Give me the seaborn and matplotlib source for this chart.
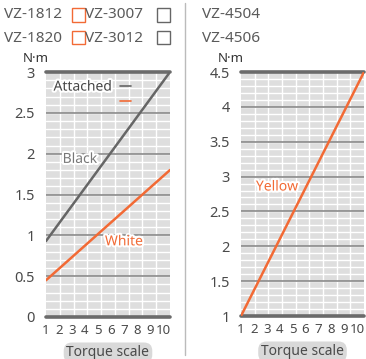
import matplotlib
matplotlib.use("Agg")
import matplotlib.pyplot as plt
import matplotlib.patheffects as pe
from matplotlib.lines import Line2D
from matplotlib.patches import Rectangle
import numpy as np
import pandas as pd
import seaborn as sns

# ---- data ----
scale_ticks = [1, 2, 3, 4, 5, 6, 7, 8, 9, 10]
scale_ends = [1, 10.55]
black_vals = [0.93, 3.0]
white_vals = [0.45, 1.8]
yellow_vals = [1.0, 4.5]
left_yticks = [0, 0.5, 1, 1.5, 2, 2.5, 3]
left_yticklabels = ["0", "0.5", "1", "1.5", "2", "2.5", "3"]
right_yticks = [1, 1.5, 2, 2.5, 3, 3.5, 4, 4.5]
right_yticklabels = ["1", "1.5", "2", "2.5", "3", "3.5", "4", "4.5"]
left_models = [["VZ-1812", "VZ-3007"], ["VZ-1820", "VZ-3012"]]
right_models = ["VZ-4504", "VZ-4506"]

sns.set_theme(style="white")
plt.rcParams['font.family'] = ['Noto Sans', 'DejaVu Sans']

GRAY_TXT = "#4a4a4a"
HEAD_TXT = "#5a5a5a"
ORANGE = "#f26a35"
DARK = "#6b6b6b"
BG = "#dedede"
FS = 9.5

fig = plt.figure(figsize=(3.66, 3.59), dpi=100)
W, H = 366, 359
def ax_rect(x0, x1, y0, y1):
    return [x0 / W, 1 - y1 / H, (x1 - x0) / W, (y1 - y0) / H]

axL = fig.add_axes(ax_rect(46, 170, 72, 317))
axR = fig.add_axes(ax_rect(241, 364, 72, 316))

df_left = pd.DataFrame({"scale": scale_ends * 2,
                        "torque": black_vals + white_vals,
                        "tip": ["Black"] * 2 + ["White"] * 2})
df_right = pd.DataFrame({"scale": scale_ends, "torque": yellow_vals})

def style_axis(ax, ylo, yhi, yticks, ylabels):
    ax.set_facecolor(BG)
    xlo, xhi = scale_ends
    ax.set_xlim(xlo, xhi)
    ax.set_ylim(ylo, yhi)
    for k in range(1, 9):
        ax.axvline(xlo + k * (xhi - xlo) / 9, color="white", lw=1.0, zorder=0.5)
    for v in np.arange(ylo, yhi + 1e-6, 0.1):
        ax.axhline(v, color="white", lw=1.0, zorder=0.5)
    for v in yticks:
        ax.axhline(v, color="#808080", lw=1.1, zorder=0.6)
    ax.axhline(yhi, color=DARK, lw=2.6, zorder=0.7, clip_on=False)
    ax.axhline(ylo, color=DARK, lw=2.6, zorder=0.7, clip_on=False)
    for s in ax.spines.values():
        s.set_visible(False)
    ax.set_xticks(scale_ticks)
    ax.set_xticklabels([str(t) for t in scale_ticks])
    ax.set_yticks(yticks)
    ax.set_yticklabels(ylabels)
    ax.tick_params(axis="x", length=0, labelsize=FS, colors=GRAY_TXT, pad=5)
    ax.tick_params(axis="y", length=0, labelsize=10.5, colors=GRAY_TXT, pad=8)
    ax.set_xlabel("Torque scale", fontsize=10, color=GRAY_TXT, labelpad=6,
                  bbox=dict(boxstyle="round,pad=0.2,rounding_size=0.6",
                            fc="#d9d9d9", ec="none"))
    ax.set_ylabel("")
    ax.text(-0.19, 1.03, "N\u00b7m", transform=ax.transAxes, fontsize=FS,
            color="#333333", ha="left", va="bottom")

sns.lineplot(data=df_left, x="scale", y="torque", hue="tip",
             palette={"Black": "#666666", "White": ORANGE},
             linewidth=1.8, legend=False, ax=axL, zorder=3)
sns.lineplot(data=df_right, x="scale", y="torque", color=ORANGE,
             linewidth=1.8, legend=False, ax=axR, zorder=3)

style_axis(axL, 0, 3, left_yticks, left_yticklabels)
style_axis(axR, 1, 4.5, right_yticks, right_yticklabels)

outline = [pe.withStroke(linewidth=3, foreground="white")]
axL.text(3.6, 1.93, "Black", color="#777777", fontsize=10, ha="center",
         va="center", path_effects=outline, zorder=4)
axL.text(7.0, 0.92, "White", color=ORANGE, fontsize=10, ha="center",
         va="center", path_effects=outline, zorder=4)
axR.text(3.8, 2.85, "Yellow", color=ORANGE, fontsize=10, ha="center",
         va="center", path_effects=outline, zorder=4)

handles = [Line2D([], [], color="#666666", lw=1.2),
           Line2D([], [], color=ORANGE, lw=1.2)]
leg = axL.legend(handles, ["Attached", " "], loc="upper left",
                 bbox_to_anchor=(-0.04, 1.02), frameon=False, markerfirst=False,
                 handlelength=0.8, handletextpad=0.6, labelspacing=0.05,
                 fontsize=10)
for t in leg.get_texts():
    t.set_color("#444444")
    t.set_path_effects(outline)

rows_y = [15, 38]
for r, (a, b) in enumerate(left_models):
    y = 1 - rows_y[r] / H
    fig.text(4 / W, y, a, fontsize=11, color=HEAD_TXT, va="center", ha="left")
    fig.text(85 / W, y, b, fontsize=11, color=HEAD_TXT, va="center", ha="left")
    fig.patches.append(Rectangle((72 / W, y - 6.5 / H), 13 / W, 13 / H,
                                 transform=fig.transFigure, fc="white",
                                 ec=ORANGE, lw=1.0))
    fig.patches.append(Rectangle((157 / W, y - 6.5 / H), 13 / W, 13 / H,
                                 transform=fig.transFigure, fc="white",
                                 ec="#666666", lw=1.0))
for r, m in enumerate(right_models):
    y = 1 - rows_y[r] / H
    fig.text(202 / W, y, m, fontsize=11, color=HEAD_TXT, va="center", ha="left")

fig.add_artist(Line2D([185 / W, 185 / W], [1 - 3 / H, 1 - 355 / H],
                      transform=fig.transFigure, color="#bbbbbb", lw=1.0))

fig.savefig("out.png", dpi=100)
